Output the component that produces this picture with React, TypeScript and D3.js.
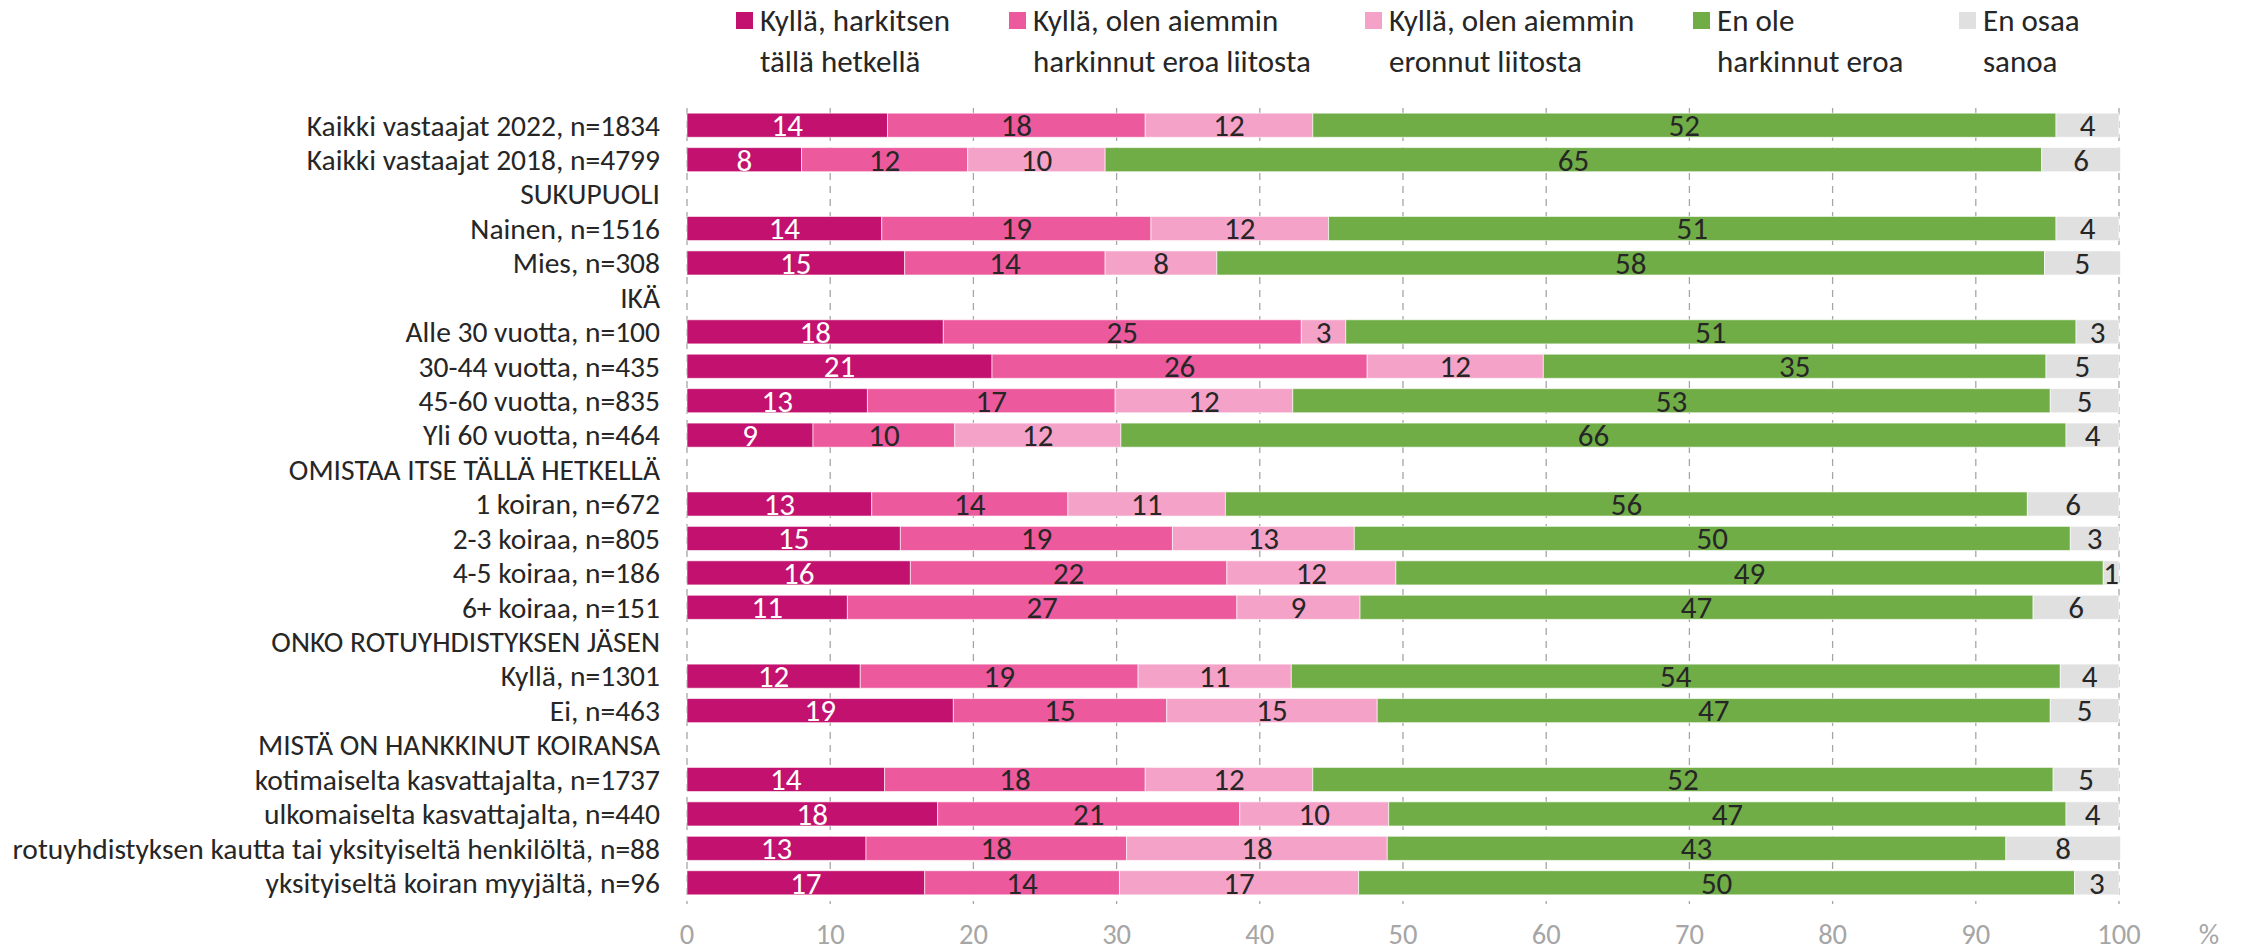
import React, { useEffect } from "react";
import * as d3 from "d3";

const categories = [
  "Kaikki vastaajat 2022, n=1834",
  "Kaikki vastaajat 2018, n=4799",
  "SUKUPUOLI",
  "Nainen, n=1516",
  "Mies, n=308",
  "IKÄ",
  "Alle 30 vuotta, n=100",
  "30-44 vuotta, n=435",
  "45-60 vuotta, n=835",
  "Yli 60 vuotta, n=464",
  "OMISTAA ITSE TÄLLÄ HETKELLÄ",
  "1 koiran, n=672",
  "2-3 koiraa, n=805",
  "4-5 koiraa, n=186",
  "6+ koiraa, n=151",
  "ONKO ROTUYHDISTYKSEN JÄSEN",
  "Kyllä, n=1301",
  "Ei, n=463",
  "MISTÄ ON HANKKINUT KOIRANSA",
  "kotimaiselta kasvattajalta, n=1737",
  "ulkomaiselta kasvattajalta, n=440",
  "rotuyhdistyksen kautta tai yksityiseltä henkilöltä, n=88",
  "yksityiseltä koiran myyjältä, n=96",
];

const harkitsen = [14.0, 8.0, null, 13.6, 15.2, null, 17.9, 21.3, 12.6, 8.8, null, 12.9, 14.9, 15.6, 11.2, null, 12.1, 18.6, null, 13.8, 17.5, 12.5, 16.6];
const harkinnut = [18.0, 11.6, null, 18.8, 14.0, null, 25.0, 26.2, 17.3, 9.9, null, 13.7, 19.0, 22.1, 27.2, null, 19.4, 14.9, null, 18.2, 21.1, 18.2, 13.6];
const eronnut = [11.7, 9.6, null, 12.4, 7.8, null, 3.1, 12.3, 12.4, 11.6, null, 11.0, 12.7, 11.8, 8.6, null, 10.7, 14.7, null, 11.7, 10.4, 18.2, 16.7];
const enOle = [51.9, 65.4, null, 50.8, 57.8, null, 51.0, 35.1, 52.9, 66.0, null, 56.0, 50.0, 49.4, 47.0, null, 53.7, 47.0, null, 51.7, 47.3, 43.2, 50.0];
const enOsaa = [4.4, 5.5, null, 4.4, 5.3, null, 3.0, 5.1, 4.8, 3.7, null, 6.4, 3.4, 1.1, 6.0, null, 4.1, 4.8, null, 4.6, 3.7, 8.0, 3.1];

const seriesNames = [
  ["Kyllä, harkitsen", "tällä hetkellä"],
  ["Kyllä, olen aiemmin", "harkinnut eroa liitosta"],
  ["Kyllä, olen aiemmin", "eronnut liitosta"],
  ["En ole", "harkinnut eroa"],
  ["En osaa", "sanoa"],
];
const seriesValues = [harkitsen, harkinnut, eronnut, enOle, enOsaa];
const seriesColors = ["#C2116E", "#EC5A9D", "#F4A2C8", "#70AD47", "#E0E0E0"];
const labelColors = ["#FFFFFF", "#262626", "#262626", "#262626", "#262626"];

const xTicks = [0, 10, 20, 30, 40, 50, 60, 70, 80, 90, 100];

const W = 2252;
const H = 951;
const FONT = "Carlito, Lato, sans-serif";
const FS = 29.5;
const FS_BAR = 31;
const FS_LEG = 31;

export default function App() {
  useEffect(() => {
    document.body.style.margin = "0";
  }, []);

  const x = d3.scaleLinear().domain([0, 100]).range([687, 2119]);
  const y = d3
    .scaleBand<number>()
    .domain(categories.map((_, i) => i))
    .range([108, 900])
    .paddingInner(0.3)
    .paddingOuter(0.15);
  const bw = y.bandwidth();

  const legendX = [736, 1009, 1365, 1693, 1959];

  return (
    <svg width={W} height={H} style={{ display: "block" }} fontFamily={FONT}>
      <rect width={W} height={H} fill="#FFFFFF" />
      {xTicks.map((t) => (
        <line
          key={"g" + t}
          x1={x(t)}
          x2={x(t)}
          y1={108}
          y2={904}
          stroke="#A6A6A6"
          strokeWidth={1.3}
          strokeDasharray="7,6"
        />
      ))}
      {categories.map((c, i) => (
        <text
          key={"c" + i}
          x={660}
          y={(y(i) as number) + bw / 2}
          dy="0.35em"
          textAnchor="end"
          fontSize={FS}
          fill="#262626"
        >
          {c}
        </text>
      ))}
      {categories.map((c, i) => {
        if (harkitsen[i] === null) return null;
        let acc = 0;
        const rects = seriesValues.map((sv, s) => {
          const v = sv[i] as number;
          const x0 = acc;
          acc += v;
          return (
            <rect
              key={s}
              x={x(x0)}
              y={y(i)}
              width={x(x0 + v) - x(x0)}
              height={bw}
              fill={seriesColors[s]}
              stroke="#FFFFFF"
              strokeOpacity={0.6}
              strokeWidth={1}
            />
          );
        });
        let a2 = 0;
        const labels = seriesValues.map((sv, s) => {
          const v = sv[i] as number;
          const mid = a2 + v / 2;
          a2 += v;
          return (
            <text
              key={"t" + s}
              x={x(mid)}
              y={(y(i) as number) + bw / 2}
              dy="0.35em"
              textAnchor="middle"
              fontSize={FS_BAR}
              fill={labelColors[s]}
            >
              {Math.round(v)}
            </text>
          );
        });
        return (
          <g key={"b" + i}>
            {rects}
            {labels}
          </g>
        );
      })}
      {xTicks.map((t) => (
        <text
          key={"xt" + t}
          x={x(t)}
          y={934}
          dy="0.35em"
          textAnchor="middle"
          fontSize={FS - 1}
          fill="#A6A6A6"
        >
          {t}
        </text>
      ))}
      <text x={2209} y={934} dy="0.35em" textAnchor="middle" fontSize={FS - 1} fill="#A6A6A6">
        %
      </text>
      {seriesNames.map((lines, s) => (
        <g key={"l" + s}>
          <rect x={legendX[s]} y={12} width={17} height={17} fill={seriesColors[s]} />
          <text x={legendX[s] + 24} y={20} dy="0.35em" fontSize={FS_LEG} fill="#262626">
            {lines[0]}
          </text>
          <text x={legendX[s] + 24} y={61} dy="0.35em" fontSize={FS_LEG} fill="#262626">
            {lines[1]}
          </text>
        </g>
      ))}
    </svg>
  );
}
